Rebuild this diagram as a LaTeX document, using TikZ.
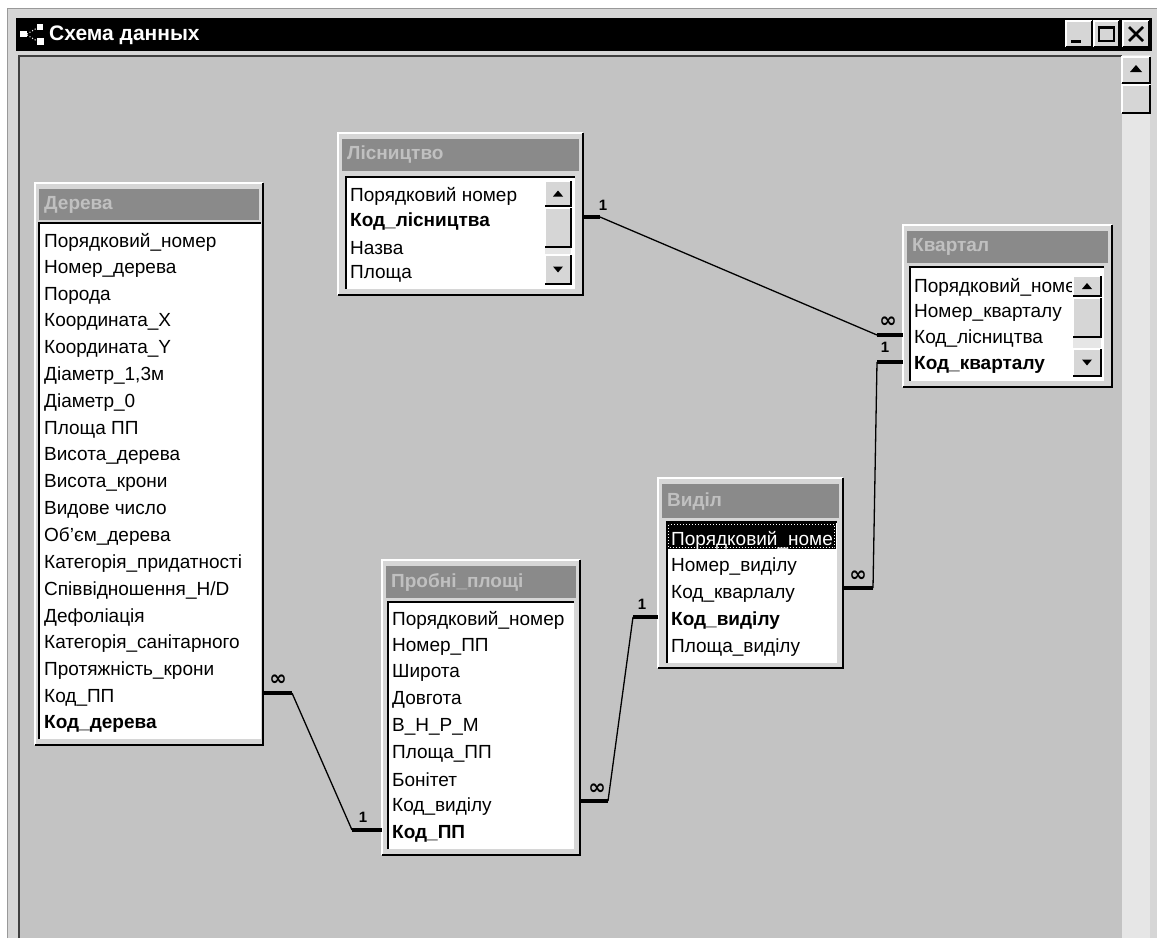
\documentclass[tikz,border=0pt]{standalone}
\usepackage{fontspec}
\setmainfont{Liberation Sans}
\newfontfamily\symf{DejaVu Sans}
\definecolor{bg}{RGB}{195,195,195}
\definecolor{face}{RGB}{214,214,214}
\definecolor{hdr}{RGB}{138,138,138}
\definecolor{hdrtxt}{RGB}{192,192,192}
\definecolor{track}{RGB}{230,230,230}
\newcommand\accbtn[4]{%
  \fill[face] (#1,#2) rectangle (#3,#4);
  \draw[white,line width=1.5pt] (#1,#4) -- (#1,#2) -- (#3,#2);
  \draw[black,line width=1.5pt] (#1,#4) -- (#3,#4) -- (#3,#2);
}
\newcommand\acctab[7]{%
  \fill[face] (#2,#3) rectangle (#4,#5);
  \draw[white,line width=2pt] (#2,#5) -- (#2,#3) -- (#4,#3);
  \draw[black,line width=2.5pt] (#2,#5) -- (#4,#5) -- (#4,#3);
  \fill[hdr] ({#2+4},{#3+6}) rectangle ({#4-4},#7);
  \node[ttl] (#1-t) at ({#2+9},{(#3+6+#7)/2}) {#6};
}
\newcommand\acclist[4]{%
  \fill[white] (#1,#2) rectangle (#3,#4);
  \draw[black,line width=1.5pt] (#1,#4) -- (#1,#2) -- (#3,#2);
}
\newcommand\accscroll[8]{%
  \fill[track] (#1,#3) rectangle (#2,#8);
  \accbtn{#1}{#3}{#2}{#4}
  \accbtn{#1}{#5}{#2}{#6}
  \accbtn{#1}{#7}{#2}{#8}
  \fill[black] ({(#1+#2)/2},{(#3+#4)/2-3}) -- ++(-5,6) -- ++(10,0) -- cycle;
  \fill[black] ({(#1+#2)/2},{(#7+#8)/2+3}) -- ++(-5,-6) -- ++(10,0) -- cycle;
}
\tikzset{
  fld/.style={anchor=west, inner sep=0pt, font=\fontsize{19}{19}\selectfont},
  ttl/.style={anchor=west, inner sep=0pt, text=hdrtxt, font=\fontsize{19}{19}\selectfont\bfseries},
  rel/.style={line width=1.3pt},
  stub/.style={line width=4pt},
  card/.style={inner sep=0pt, font=\fontsize{15}{15}\selectfont\bfseries},
  inf/.style={inner sep=0pt, font=\symf\fontsize{21}{21}\selectfont\bfseries},
}
\begin{document}
\begin{tikzpicture}[x=1pt,y=-1pt]
\useasboundingbox (0,0) rectangle (1157,938);
% window
\fill[white] (0,0) rectangle (1157,938);
\fill[face] (7,8) rectangle (1157,938);
\draw[black!40,line width=1pt] (7.5,938) -- (7.5,8.5) -- (1157,8.5);
\fill[black] (16,18) rectangle (1152,51);
% icon
\fill[white] (20,31) rectangle (27,37);
\fill[white] (37,24) rectangle (43,30);
\fill[white] (37,38) rectangle (44,45);
\draw[white,line width=1pt,dotted] (27,34) -- (37,28);
\draw[white,line width=1pt,dotted] (27,35) -- (37,41);
\node[font=\fontsize{21}{21}\selectfont\bfseries, text=white, anchor=west, inner sep=0pt] (wtitle) at (49,35) {Схема данных};
% window buttons
\accbtn{1066}{21}{1092}{47}
\draw[black,line width=3pt] (1071,41) -- (1081,41);
\accbtn{1094}{21}{1119}{47}
\draw[black,line width=1.5pt] (1099,27) rectangle (1114,41);
\draw[black,line width=2pt] (1099,27.5) -- (1114,27.5);
\accbtn{1123}{21}{1149}{47}
\draw[black,line width=2.5pt] (1129,27) -- (1143,41) (1143,27) -- (1129,41);
% client area
\fill[bg] (18,55) rectangle (1122,938);
\draw[black!75,line width=2pt] (19,938) -- (19,56) -- (1122,56);
% scrollbar
\fill[track] (1122,55) rectangle (1150,938);
\accbtn{1122}{57}{1150}{83}
\fill[black] (1136,65) -- ++(-6,7) -- ++(12,0) -- cycle;
\accbtn{1122}{85}{1150}{113}
\fill[face] (1151,51) rectangle (1157,938);

% ===== Дерева =====
\acctab{der}{35}{183}{263}{745}{Дерева}{220}
\acclist{39}{223}{261}{739}
\begin{scope}
\clip (39,223) rectangle (261,739);
\foreach \t [count=\i from 0] in {Порядковий\_номер, Номер\_дерева, Порода, Координата\_X, Координата\_Y, {Діаметр\_1,3м}, Діаметр\_0, Площа ПП, Висота\_дерева, Висота\_крони, Видове число, Об'єм\_дерева, Категорія\_придатності, Співвідношення\_H/D, Дефоліація, Категорія\_санітарного, Протяжність\_крони, Код\_ПП, {\bfseries Код\_дерева}}
  \node[fld] (der-\i) at (44,{242+26.8*\i}) {\t};
\end{scope}

% ===== Лісництво =====
\acctab{lis}{338}{133}{583}{295}{Лісництво}{171}
\acclist{346}{177}{575}{289}
\begin{scope}
\clip (346,177) rectangle (575,289);
\foreach \t [count=\i from 0] in {Порядковий номер, {\bfseries Код\_лісництва}, Назва, Площа}
  \node[fld] (lis-\i) at (350,{196+26*\i}) {\t};
\end{scope}
\accscroll{545}{571}{181}{206}{208}{247}{255}{284}

% ===== Квартал =====
\acctab{kv}{903}{225}{1112}{387}{Квартал}{263}
\acclist{910}{267}{1104}{381}
\begin{scope}
\clip (910,267) rectangle (1073,381);
\foreach \t [count=\i from 0] in {Порядковий\_номе, Номер\_кварталу, Код\_лісництва, {\bfseries Код\_кварталу}}
  \node[fld] (kv-\i) at (914,{287+26*\i}) {\t};
\end{scope}
\accscroll{1073}{1101}{276}{296}{298}{337}{349}{376}

% ===== Виділ =====
\acctab{vyd}{658}{478}{843}{668}{Виділ}{518}
\acclist{667}{522}{837}{663}
\fill[black] (667,523) rectangle (836,549);
\draw[white,line width=1pt,dotted] (668.5,524.5) rectangle (834.5,547.5);
\begin{scope}
\clip (667,522) rectangle (836,663);
\foreach \t [count=\i from 0] in {{\color{white}Порядковий\_номе}, Номер\_виділу, Код\_кварлалу, {\bfseries Код\_виділу}, Площа\_виділу}
  \node[fld] (vyd-\i) at (671,{540+26.8*\i}) {\t};
\end{scope}

% ===== Пробні_площі =====
\acctab{pp}{382}{560}{580}{855}{Пробні\_площі}{598}
\acclist{388}{602}{574}{849}
\begin{scope}
\clip (388,602) rectangle (574,849);
\foreach \t [count=\i from 0] in {Порядковий\_номер, Номер\_ПП, Широта, Довгота, В\_Н\_Р\_М, Площа\_ПП, Бонітет, Код\_виділу, {\bfseries Код\_ПП}}
  \node[fld] (pp-\i) at (392,{620+26.67*\i}) {\t};
\end{scope}

% ===== relationships =====
% Лісництво -> Квартал
\coordinate (r1a) at (583,217);
\coordinate (r1b) at (600,217);
\coordinate (r1c) at (877,335);
\coordinate (r1d) at (903,335);
\draw[stub] (r1a) -- (r1b);
\draw[rel] (r1b) -- (r1c);
\draw[stub] (r1c) -- (r1d);
\node[card] (c1a) at (603,205) {1};
\node[inf] (c1b) at (888,322) {∞};
% Квартал -> Виділ
\coordinate (r2a) at (903,362);
\coordinate (r2b) at (877,362);
\coordinate (r2c) at (873,588);
\coordinate (r2d) at (843,588);
\draw[stub] (r2a) -- (r2b);
\draw[rel] (r2b) -- (r2c);
\draw[stub] (r2c) -- (r2d);
\node[card] (c2a) at (885,347) {1};
\node[inf] (c2b) at (858,576) {∞};
% Виділ -> Пробні_площі
\coordinate (r3a) at (658,617);
\coordinate (r3b) at (633,617);
\coordinate (r3c) at (608,801);
\coordinate (r3d) at (580,801);
\draw[stub] (r3a) -- (r3b);
\draw[rel] (r3b) -- (r3c);
\draw[stub] (r3c) -- (r3d);
\node[card] (c3a) at (642,604) {1};
\node[inf] (c3b) at (597,789) {∞};
% Пробні_площі -> Дерева
\coordinate (r4a) at (382,830);
\coordinate (r4b) at (352,830);
\coordinate (r4c) at (292,693);
\coordinate (r4d) at (263,693);
\draw[stub] (r4a) -- (r4b);
\draw[rel] (r4b) -- (r4c);
\draw[stub] (r4c) -- (r4d);
\node[card] (c4a) at (363,817) {1};
\node[inf] (c4b) at (278,680) {∞};
\end{tikzpicture}
\end{document}
